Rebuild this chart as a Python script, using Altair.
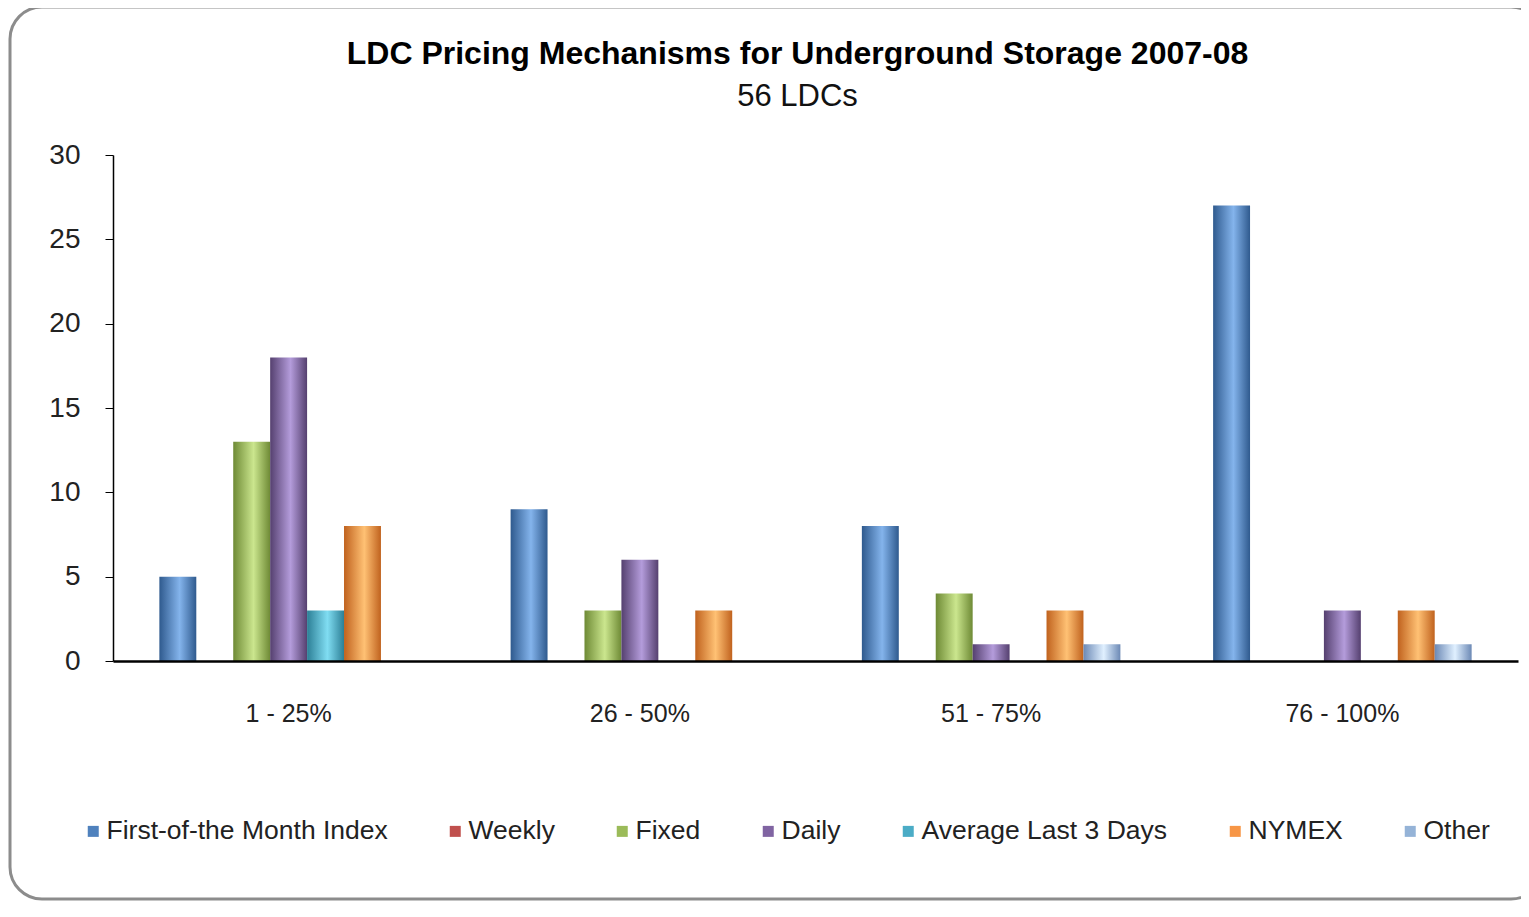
import altair as alt
import pandas as pd

categories = ["1 - 25%", "26 - 50%", "51 - 75%", "76 - 100%"]
series = ["First-of-the Month Index", "Weekly", "Fixed", "Daily",
          "Average Last 3 Days", "NYMEX", "Other"]
first_of_month = [5, 9, 8, 27]
weekly = [0, 0, 0, 0]
fixed = [13, 3, 4, 0]
daily = [18, 6, 1, 3]
avg_last_3 = [3, 0, 0, 0]
nymex = [8, 3, 3, 3]
other = [0, 0, 1, 1]

values = [first_of_month, weekly, fixed, daily, avg_last_3, nymex, other]
base_colors = ["#4F81BD", "#C0504D", "#9BBB59", "#8064A2", "#4BACC6", "#F79646", "#95B3D7"]
edge_colors = ["#2F5A8E", "#8C3230", "#6E8A35", "#55406F", "#2C7F96", "#C0621E", "#6C89B5"]
light_colors = ["#84B4EC", "#E88A86", "#CBE68E", "#B49CDB", "#80DDF2", "#FFC174", "#E0F0FF"]

rows = []
for s, vals in zip(series, values):
    for c, v in zip(categories, vals):
        rows.append({"category": c, "series": s, "value": v})
df = pd.DataFrame(rows)

FONT = "Liberation Sans, Arial, sans-serif"

x_enc = alt.X("category:N", sort=categories, title=None,
              scale=alt.Scale(paddingInner=0.264, paddingOuter=0.132),
              axis=alt.Axis(labelAngle=0, tickSize=0, labelPadding=40,
                            labelFontSize=25, labelColor="#222222", labelFont=FONT,
                            domainColor="#000000", domainWidth=2.5, zindex=1))
xo_enc = alt.XOffset("series:N", sort=series, scale=alt.Scale(domain=series, paddingInner=0, paddingOuter=0))
y_enc = alt.Y("value:Q", title=None,
              scale=alt.Scale(domain=[0, 30], nice=False),
              axis=alt.Axis(values=[0, 5, 10, 15, 20, 25, 30], grid=False,
                            tickSize=8, tickColor="#000000", labelPadding=25,
                            labelFontSize=28, labelColor="#222222", labelFont=FONT,
                            domainColor="#000000", domainWidth=1.5, zindex=1))

legend_layer = alt.Chart(df).mark_bar(opacity=0).encode(
    x=x_enc, xOffset=xo_enc, y=y_enc,
    color=alt.Color("series:N", sort=series,
                    scale=alt.Scale(domain=series, range=base_colors),
                    legend=alt.Legend(title=None, orient="none", direction="horizontal",
                                      columns=7, legendX=-33, legendY=663,
                                      symbolType="square", symbolSize=121,
                                      symbolStrokeWidth=0, symbolOpacity=1,
                                      labelFontSize=26.5,
                                      labelFont=FONT, labelColor="#222222",
                                      labelOffset=0, columnPadding=54, padding=0,
                                      labelLimit=400)),
)

layers = [legend_layer]
for s, e, l in zip(series, edge_colors, light_colors):
    grad = alt.Gradient(gradient="linear", x1=0, x2=1, y1=0, y2=0,
                        stops=[alt.GradientStop(color=e, offset=0),
                               alt.GradientStop(color=l, offset=0.55),
                               alt.GradientStop(color=e, offset=1)])
    layers.append(
        alt.Chart(df).transform_filter((alt.datum.series == s) & (alt.datum.value > 0))
        .mark_bar(color=grad)
        .encode(x=x_enc, xOffset=xo_enc, y=y_enc)
    )

frame = alt.Chart(pd.DataFrame({"f": [0]})).mark_rect(
    fill=None, stroke="#8c8c8c", strokeWidth=3, cornerRadius=32
).encode(x=alt.value(-103), x2=alt.value(1430), y=alt.value(-148), y2=alt.value(744))

chart = alt.layer(frame, *layers).properties(
    width=1405, height=506,
    autosize=alt.AutoSizeParams(type="none"),
    padding={"left": 105, "top": 147, "right": 3, "bottom": 248},
    title=alt.TitleParams(
        text="LDC Pricing Mechanisms for Underground Storage 2007-08",
        subtitle="56 LDCs", anchor="middle", frame="group", dx=-18, offset=-107,
        font=FONT, fontSize=32, fontWeight="bold", color="#000000",
        subtitleFont=FONT, subtitleFontSize=31, subtitleColor="#111111",
        subtitlePadding=11),
).configure_view(stroke=None)

chart.save("out.html", embed_options={"renderer": "svg", "actions": False})
